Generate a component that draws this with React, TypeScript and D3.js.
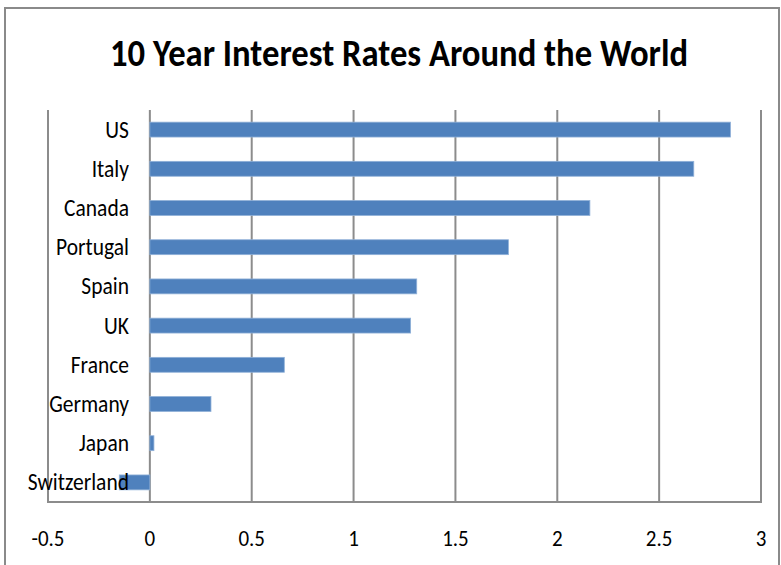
import React from "react";
import * as d3 from "d3";

const countries = ["US", "Italy", "Canada", "Portugal", "Spain", "UK", "France", "Germany", "Japan", "Switzerland"];
const rates = [2.85, 2.67, 2.16, 1.76, 1.31, 1.28, 0.66, 0.30, 0.02, -0.15];
const xTicks = [-0.5, 0, 0.5, 1, 1.5, 2, 2.5, 3];
const title = "10 Year Interest Rates Around the World";

const W = 781;
const H = 565;
const FONT = "Carlito, 'Liberation Sans Narrow', 'Open Sans', sans-serif";

export default function App() {
  const x = d3.scaleLinear().domain([-0.5, 3]).range([48, 761]);
  const y = d3.scaleBand<string>().domain(countries).range([110, 502]).paddingInner(0.62).paddingOuter(0.31);
  const grid = "#8c8c8c";
  return (
    <svg width={W} height={H} style={{ position: "absolute", left: 0, top: 0, background: "#fff" }}>
      <rect x={5} y={8} width={774} height={570} fill="#fff" stroke="#8a8a8a" strokeWidth={2} />
      <g transform="translate(399,66) scale(1,1.12)">
        <text x={0} y={0} textAnchor="middle" fontFamily={FONT} fontWeight="bold" fontSize={34}
          textLength={578} lengthAdjust="spacingAndGlyphs" fill="#000">{title}</text>
      </g>
      {xTicks.map((t) => (
        <line key={"g" + t} x1={x(t)} x2={x(t)} y1={110} y2={502} stroke={grid} strokeWidth={2} />
      ))}
      <line x1={x(-0.5) - 1} x2={x(3) + 1} y1={502} y2={502} stroke={grid} strokeWidth={2} />
      {countries.map((c, i) => {
        const v = rates[i];
        const x0 = x(Math.min(0, v));
        const x1 = x(Math.max(0, v));
        return (
          <rect key={c} x={x0} y={y(c)!} width={x1 - x0} height={y.bandwidth()} fill="#4f81bd" stroke="#8fb0d8" strokeWidth={0.8} />
        );
      })}
      {countries.map((c) => (
        <g key={"l" + c} transform={`translate(129,${y(c)! + y.bandwidth() / 2 + 8}) scale(1,1.12)`}>
          <text x={0} y={0} textAnchor="end" fontFamily={FONT} fontSize={21.5} fill="#000">{c}</text>
        </g>
      ))}
      {xTicks.map((t) => (
        <g key={"t" + t} transform={`translate(${x(t)},546) scale(1,1.05)`}>
          <text x={0} y={0} textAnchor="middle" fontFamily={FONT} fontSize={21} fill="#000">{String(t)}</text>
        </g>
      ))}
    </svg>
  );
}
